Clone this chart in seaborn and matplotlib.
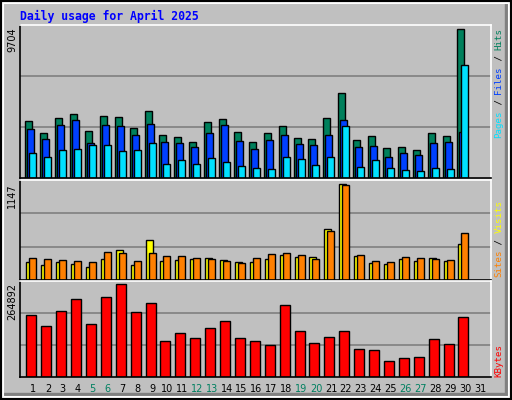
import numpy as np
import matplotlib
matplotlib.use("Agg")
import matplotlib.pyplot as plt
import seaborn as sns
from matplotlib.patches import Rectangle

days = list(range(1, 32))
weekend = [5, 6, 12, 13, 19, 20, 26, 27]

hits = [3710, 2920, 3907, 4171, 3051, 4039, 3973, 3249, 4368, 2788, 2656, 2327, 3644, 3841, 2985,
        2327, 2919, 3380, 2590, 2524, 3907, 5553, 2458, 2722, 1932, 1997, 1800, 2919, 2722, 9704]
files = [3183, 2524, 3446, 3775, 2261, 3446, 3380, 2788, 3512, 2327, 2261, 1997, 2919, 3446, 2393,
         1866, 2458, 2788, 2195, 2129, 2788, 3775, 1997, 2063, 1339, 1602, 1471, 2261, 2327, 2985]
pages = [1602, 1339, 1800, 1866, 2129, 2129, 1734, 1800, 2261, 944, 1141, 944, 1273, 1010, 812,
         680, 615, 1339, 1207, 878, 1339, 3380, 746, 1141, 680, 549, 483, 680, 615, 7331]
visits = [215, 178, 215, 190, 153, 253, 364, 178, 476, 228, 240, 253, 265, 240, 215,
          215, 253, 302, 277, 277, 613, 1147, 290, 203, 190, 253, 228, 265, 228, 426]
sites = [265, 253, 240, 228, 215, 339, 327, 228, 327, 290, 290, 265, 253, 228, 203,
         265, 315, 327, 302, 253, 588, 1134, 302, 228, 215, 277, 265, 253, 240, 563]
kbytes = [177891, 145987, 189493, 224300, 151788, 227200, 264892, 186592, 212696, 102481,
          125684, 111182, 140186, 160489, 111182, 102481, 90879, 206895, 131485, 96680,
          114082, 131485, 79278, 76377, 44473, 53174, 56074, 108282, 93780, 172090]

C_HITS, C_FILES, C_PAGES = "#00805c", "#0040ff", "#00e0ff"
C_VISITS, C_SITES, C_KB = "#ffff00", "#ff8000", "#ff0000"
BG = "#c0c0c0"

sns.set_style("white")
plt.rcParams["font.family"] = ["DejaVu Sans Mono", "DejaVu Sans"]

W, H = 512, 400
fig = plt.figure(figsize=(W / 100, H / 100), dpi=100, facecolor=BG)

# pixel -> data: day d centred at x = 33 + 14.9*(d-1)
PX = 1 / 14.9
xl = (1 - 13 * PX, 1 + 458 * PX)
n = len(hits)
x = np.arange(1, n + 1)


def make_ax(top, bottom):
    ax = fig.add_axes([20 / W, 1 - bottom / H, 471 / W, (bottom - top) / H])
    ax.set_facecolor(BG)
    ax.set_xlim(*xl)
    for s in ["left", "bottom"]:
        ax.spines[s].set_color("black")
    for s in ["top", "right"]:
        ax.spines[s].set_color("white")
    for s in ax.spines.values():
        s.set_linewidth(1.2)
    ax.set_xticks([])
    ax.set_yticks([])
    return ax


def grid(ax, top):
    for f in (1 / 3, 2 / 3):
        ax.axhline(top * f, color="#808080", lw=1.2, zorder=0)


def bars(ax, vals, off, w, color):
    ax.bar(x + off * PX, vals, width=w * PX, align="edge", color=color,
           edgecolor="black", linewidth=1, zorder=2)


# top panel
ax1 = make_ax(25, 178)
top1 = max(hits) * 153 / 149
ax1.set_ylim(0, top1)
grid(ax1, top1)
bars(ax1, hits, -7.7, 7, C_HITS)
bars(ax1, files, -5.7, 7, C_FILES)
bars(ax1, pages, -3.7, 7, C_PAGES)

# middle panel
ax2 = make_ax(180, 280)
top2 = max(visits) * 100 / 95.7
ax2.set_ylim(0, top2)
grid(ax2, top2)
bars(ax2, visits, -6.7, 7, C_VISITS)
bars(ax2, sites, -3.7, 7, C_SITES)

# bottom panel
ax3 = make_ax(281, 377)
top3 = max(kbytes) * 96 / 92.7
ax3.set_ylim(0, top3)
grid(ax3, top3)
bars(ax3, kbytes, -6.7, 10, C_KB)
ax3.set_xticks(days)
ax3.set_xticklabels([str(d) for d in days], fontsize=7, family="DejaVu Sans")
ax3.tick_params(axis="x", length=0, pad=5)
for lab, d in zip(ax3.get_xticklabels(), days):
    lab.set_color("#008060" if d in weekend else "black")

# title
fig.text(20 / W, 1 - 16 / H, "Daily usage for April 2025", color="#0000ff",
         fontsize=8.3, fontweight="bold", va="center", ha="left")

# left max labels
for txt, ytop in [(str(max(hits)), 27), (str(max(visits)), 183), (str(max(kbytes)), 283)]:
    fig.text(12 / W, 1 - ytop / H, txt, rotation=90, fontsize=7, family="DejaVu Sans",
             ha="center", va="top", color="black")


# right coloured labels
def side_label(parts, ybottom, step=5.5):
    y = ybottom
    for txt, col in parts:
        fig.text(499 / W, 1 - y / H, txt, rotation=90, fontsize=6.6, color=col,
                 ha="center", va="bottom")
        y -= step * len(txt)


side_label([("Pages", C_PAGES), (" / ", "black"), ("Files", C_FILES),
            (" / ", "black"), ("Hits", C_HITS)], 138)
side_label([("Sites", C_SITES), (" / ", "black"), ("Visits", C_VISITS)], 277)
side_label([("KBytes", C_KB)], 377)

# frame
fig.patches.append(Rectangle((505 / W, 0), 7 / W, 1, transform=fig.transFigure,
                             color="#808080", zorder=-1))
fig.patches.append(Rectangle((0, 0), 1, 7 / H, transform=fig.transFigure,
                             color="#808080", zorder=-1))
fig.patches.append(Rectangle((3 / W, 3 / H), 1 - 6 / W, 1 - 6 / H, transform=fig.transFigure,
                             fill=False, edgecolor="white", lw=1.5))
fig.patches.append(Rectangle((0, 0), 1, 1, transform=fig.transFigure,
                             fill=False, edgecolor="black", lw=3))

fig.savefig("out.png", dpi=100, facecolor=BG)
